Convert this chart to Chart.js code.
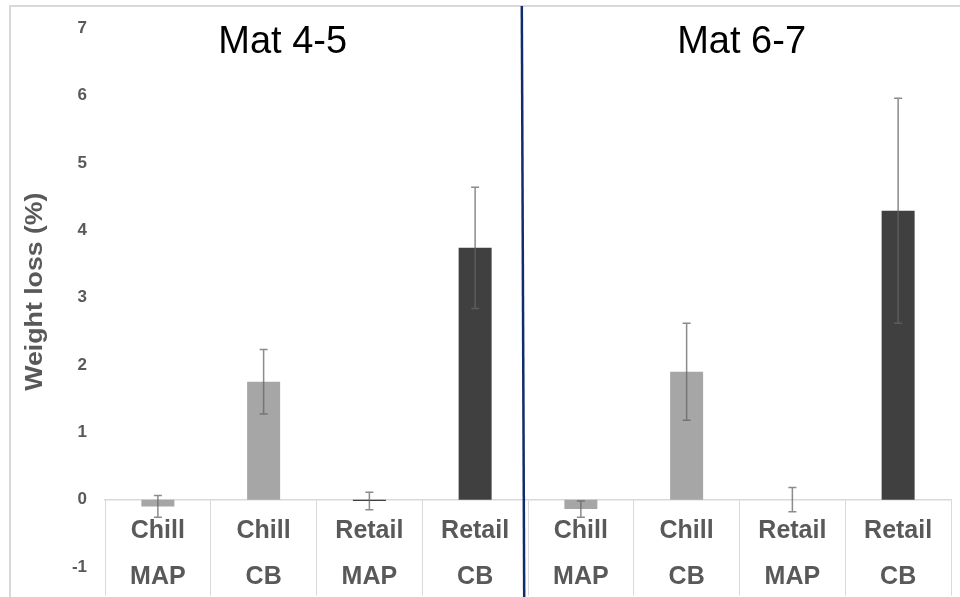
<!DOCTYPE html>
<html>
<head>
<meta charset="utf-8">
<title>Weight loss by storage</title>
<script src="https://cdn.jsdelivr.net/npm/chart.js@4.4.1/dist/chart.umd.min.js"></script>
<style>
  html, body { margin: 0; padding: 0; background: #ffffff; }
  #wrap { width: 960px; height: 597px; position: relative; }
  canvas { display: block; }
</style>
</head>
<body>
<div id="wrap"><canvas id="chart" width="960" height="597"></canvas></div>
<script>
// Storage treatment per bar (two-line category labels)
const categories = [
  ['Chill', 'MAP'], ['Chill', 'CB'], ['Retail', 'MAP'], ['Retail', 'CB'],
  ['Chill', 'MAP'], ['Chill', 'CB'], ['Retail', 'MAP'], ['Retail', 'CB']
];
// Mean weight loss (%) per treatment; first four Mat 4-5, last four Mat 6-7
const weightLoss = [-0.10, 1.75, -0.02, 3.74, -0.14, 1.90, 0.00, 4.29];
// Error bar half-length (%)
const errorSize = [0.16, 0.48, 0.13, 0.90, 0.12, 0.72, 0.18, 1.67];
// Storage type drives bar shade
const storage = ['Chill', 'Chill', 'Retail', 'Retail', 'Chill', 'Chill', 'Retail', 'Retail'];
const groupTitles = ['Mat 4-5', 'Mat 6-7'];
const yTicks = [-1, 0, 1, 2, 3, 4, 5, 6, 7];

const shade = { Chill: '#a6a6a6', Retail: '#404040' };
const FONT = "'Liberation Sans', Arial, Helvetica, sans-serif";
Chart.defaults.font.family = FONT;

// Light frame along the left and top edges
const framePlugin = {
  id: 'frame',
  beforeDraw(chart) {
    const ctx = chart.ctx;
    ctx.save();
    ctx.strokeStyle = '#d9d9d9';
    ctx.lineWidth = 2;
    ctx.beginPath();
    ctx.moveTo(10, chart.height);
    ctx.lineTo(10, 6);
    ctx.lineTo(chart.width, 6);
    ctx.stroke();
    ctx.restore();
  }
};

// Error bars with caps, computed from the value and error arrays
const errorBarPlugin = {
  id: 'errorBars',
  afterDatasetsDraw(chart) {
    const ctx = chart.ctx;
    const y = chart.scales.y;
    const meta = chart.getDatasetMeta(0);
    ctx.save();
    ctx.strokeStyle = 'rgba(100,100,100,0.75)';
    ctx.lineWidth = 1.5;
    meta.data.forEach((bar, i) => {
      const v = weightLoss[i], e = errorSize[i];
      const yt = y.getPixelForValue(v + e);
      const yb = y.getPixelForValue(v - e);
      const x = bar.x;
      ctx.beginPath();
      ctx.moveTo(x, yt); ctx.lineTo(x, yb);
      ctx.moveTo(x - 4, yt); ctx.lineTo(x + 4, yt);
      ctx.moveTo(x - 4, yb); ctx.lineTo(x + 4, yb);
      ctx.stroke();
    });
    ctx.restore();
  }
};

// Group divider, group headings and the y-axis title
const annotatePlugin = {
  id: 'annotate',
  afterDraw(chart) {
    const ctx = chart.ctx;
    const x = chart.scales.x;
    ctx.save();

    // divider between the two maturity groups
    const xd = x.getPixelForValue(3.5) - 5;
    ctx.strokeStyle = '#102c6c';
    ctx.lineWidth = 2.5;
    ctx.beginPath();
    ctx.moveTo(xd - 1.2, 6);
    ctx.lineTo(xd + 1.2, chart.height);
    ctx.stroke();

    // group headings
    ctx.fillStyle = '#000000';
    ctx.font = '38px ' + FONT;
    ctx.textAlign = 'center';
    ctx.textBaseline = 'alphabetic';
    ctx.fillText(groupTitles[0], x.getPixelForValue(1.18), 53);
    ctx.fillText(groupTitles[1], x.getPixelForValue(5.52), 53);

    // y-axis title
    const area = chart.chartArea;
    ctx.translate(41.5, (area.top + area.bottom) / 2 - 6);
    ctx.rotate(-Math.PI / 2);
    ctx.scale(1.16, 1);
    ctx.fillStyle = '#595959';
    ctx.font = 'bold 23px ' + FONT;
    ctx.textAlign = 'center';
    ctx.textBaseline = 'alphabetic';
    ctx.fillText('Weight loss (%)', 0, 0);
    ctx.restore();
  }
};

new Chart(document.getElementById('chart'), {
  type: 'bar',
  data: {
    labels: categories,
    datasets: [{
      data: weightLoss,
      backgroundColor: storage.map(s => shade[s]),
      borderWidth: 0,
      categoryPercentage: 1.0,
      barPercentage: 0.312
    }]
  },
  options: {
    responsive: false,
    devicePixelRatio: 1,
    animation: false,
    layout: { padding: { left: 10, right: 9, top: 26, bottom: 30 } },
    plugins: {
      legend: { display: false },
      tooltip: { enabled: false },
      title: { display: false }
    },
    scales: {
      x: {
        position: { y: 0 },
        offset: true,
        grid: {
          display: true,
          offset: true,
          drawOnChartArea: false,
          drawTicks: true,
          tickLength: 95,
          color: '#d9d9d9',
          tickColor: '#d9d9d9',
          lineWidth: 1
        },
        border: { display: true, color: '#d9d9d9', width: 1.5 },
        ticks: {
          color: '#595959',
          font: { size: 25, weight: 'bold', lineHeight: 1.84 },
          padding: -87,
          maxRotation: 0,
          minRotation: 0,
          autoSkip: false
        }
      },
      y: {
        min: yTicks[0],
        max: yTicks[yTicks.length - 1],
        afterBuildTicks(scale) { scale.ticks = yTicks.map(v => ({ value: v })); },
        afterFit(scale) { scale.width = 95; },
        grid: { display: false, drawTicks: false },
        border: { display: false },
        ticks: {
          color: '#595959',
          font: { size: 17, weight: 'bold' },
          padding: 18
        }
      }
    }
  },
  plugins: [framePlugin, errorBarPlugin, annotatePlugin]
});
</script>
</body>
</html>
